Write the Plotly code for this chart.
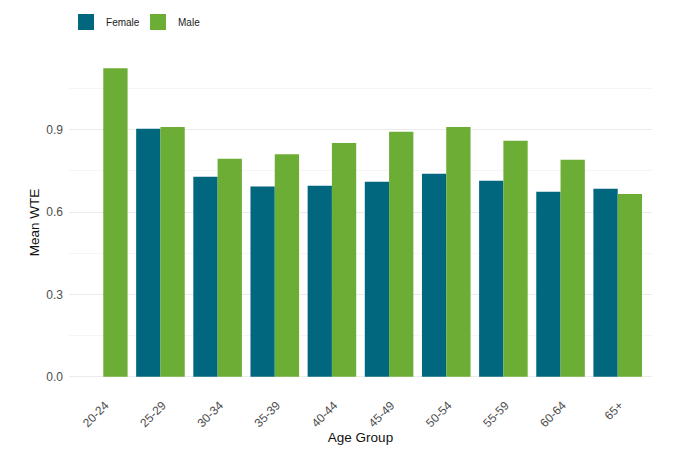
import plotly.graph_objects as go

# mean whole-time equivalent by age group and sex
age_groups = ["20-24", "25-29", "30-34", "35-39", "40-44",
              "45-49", "50-54", "55-59", "60-64", "65+"]
female_wte = [None, 0.904, 0.729, 0.693, 0.696, 0.711, 0.740, 0.714, 0.674, 0.685]
male_wte = [1.124, 0.910, 0.794, 0.811, 0.852, 0.893, 0.910, 0.860, 0.791, 0.666]

y_ticks = [0.0, 0.3, 0.6, 0.9]

teal = "#00677F"
green = "#6CAE35"
font_family = "Liberation Sans, Arial, sans-serif"

fig = go.Figure()

fig.add_trace(go.Bar(x=age_groups, y=female_wte, name="Female",
                     marker=dict(color=teal, line=dict(width=0)),
                     showlegend=False))
fig.add_trace(go.Bar(x=age_groups, y=male_wte, name="Male",
                     marker=dict(color=green, line=dict(width=0)),
                     showlegend=False))

# legend-only entries so the keys come out as bigger squares
for nm, col in [("Female", teal), ("Male", green)]:
    fig.add_trace(go.Scatter(x=[None], y=[None], name=nm, mode="markers",
                             marker=dict(symbol="square", size=16, color=col)))

# page body has an 8px margin, so the figure is a bit smaller than the window
fig.update_layout(
    width=670, height=460,
    margin=dict(l=61, r=26, t=45, b=76),
    paper_bgcolor="white", plot_bgcolor="white",
    barmode="group", bargap=0.15, bargroupgap=0,
    font=dict(family=font_family, size=12, color="#4d4d4d"),
    legend=dict(orientation="h", xref="container", x=0.0866, xanchor="left",
                yref="container", y=0.9696, yanchor="middle",
                font=dict(size=10, color="#222222"), itemwidth=30,
                entrywidth=27, entrywidthmode="pixels",
                bgcolor="rgba(0,0,0,0)"),
    xaxis=dict(title=dict(text="Age Group", font=dict(size=13.5, color="#111111"), standoff=3),
               automargin=False,
               tickangle=-45, showgrid=False, zeroline=False, showline=False,
               ticks="", tickfont=dict(size=12, color="#4d4d4d"),
               ticklabelstandoff=3, ticklabelshift=2,
               range=[-0.6, len(age_groups) - 0.4]),
    yaxis=dict(title=dict(text="Mean WTE", font=dict(size=13.5, color="#111111"), standoff=3),
               automargin=False,
               range=[-0.056, 1.18], tickvals=y_ticks,
               ticktext=[f"{v:.1f}" for v in y_ticks],
               ticklabelstandoff=5,
               showgrid=True, gridcolor="#ebebeb", gridwidth=1,
               minor=dict(tickvals=[0.15, 0.45, 0.75, 1.05], showgrid=True,
                          gridcolor="#f5f5f5", gridwidth=1),
               zeroline=False, showline=False, ticks=""),
)

fig.write_html("out.html")
